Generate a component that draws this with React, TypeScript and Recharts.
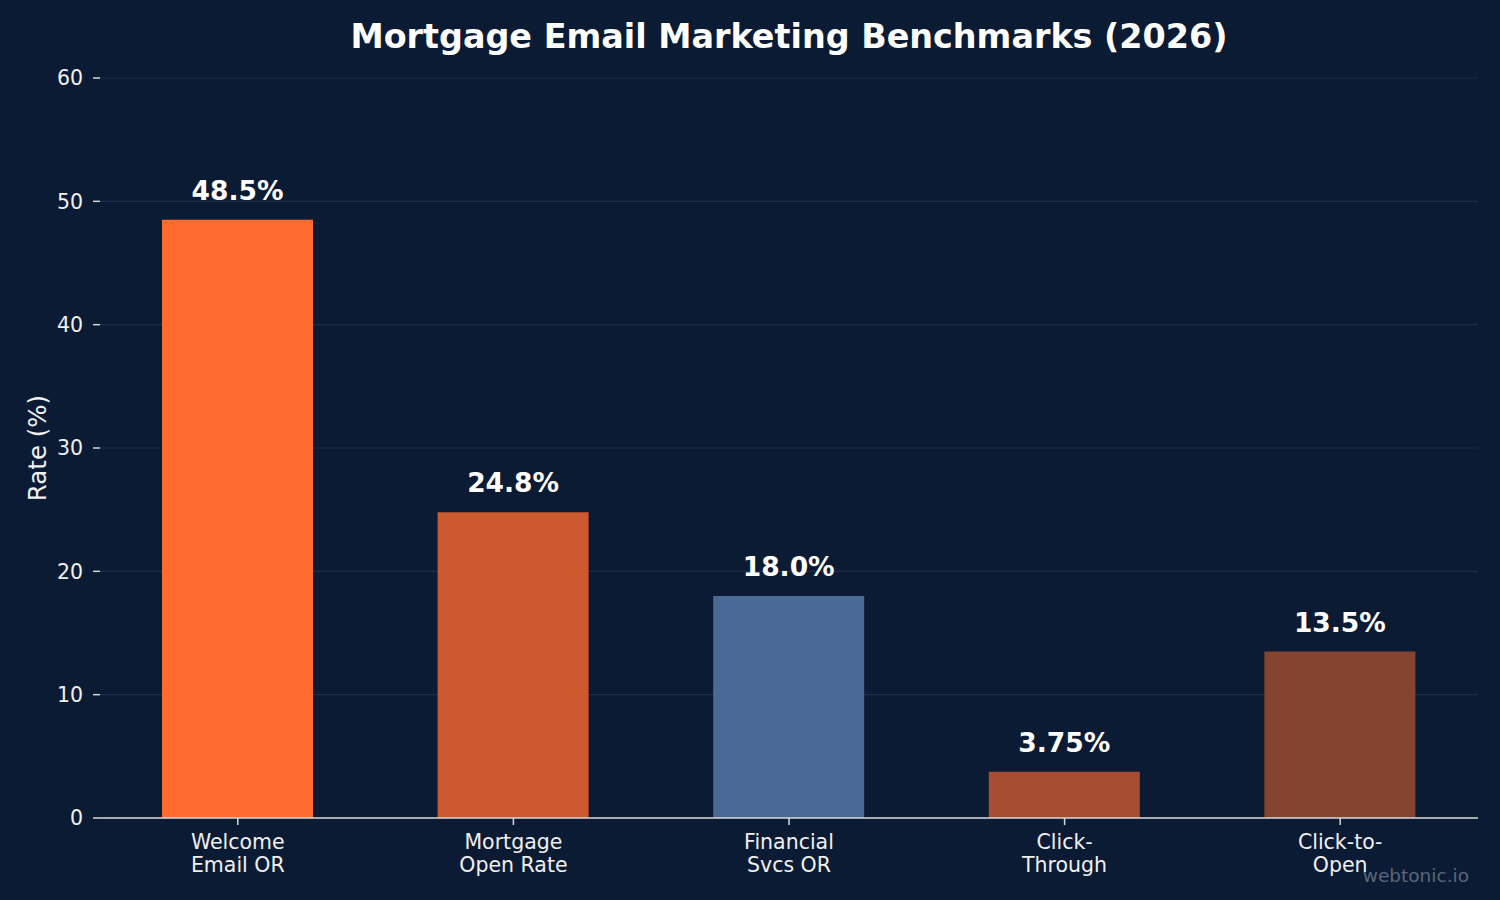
import React from "react";
import { BarChart, Bar, XAxis, YAxis, CartesianGrid, Cell, LabelList } from "recharts";

const categories = ["Welcome\nEmail OR", "Mortgage\nOpen Rate", "Financial\nSvcs OR", "Click-\nThrough", "Click-to-\nOpen"];
const values = [48.5, 24.8, 18.0, 3.75, 13.5];
const valueLabels = ["48.5%", "24.8%", "18.0%", "3.75%", "13.5%"];
const colors = ["#FF6B2C", "#CC5A2E", "#4A6A96", "#A84E30", "#844430"];
const yTicks = [0, 10, 20, 30, 40, 50, 60];

const data = categories.map((c, i) => ({ name: c, value: values[i], label: valueLabels[i] }));

const FONT = "'DejaVu Sans', sans-serif";
const BG = "#0C1B34";

const XTick = (props: any) => {
  const { x, y, payload } = props;
  const lines = String(payload.value).split("\n");
  return (
    <text x={x} y={y} textAnchor="middle" fill="#F0F0F0" fontSize={20.5} fontFamily={FONT}>
      {lines.map((l, i) => (
        <tspan key={i} x={x} dy={i === 0 ? 21.5 : 23}>
          {l}
        </tspan>
      ))}
    </text>
  );
};

const ValueLabel = (props: any) => {
  const { x, y, width, index } = props;
  return (
    <text
      x={x + width / 2}
      y={y - 20}
      textAnchor="middle"
      fill="#FFFFFF"
      fontSize={26.5}
      fontWeight="bold"
      fontFamily={FONT}
    >
      {valueLabels[index]}
    </text>
  );
};

const YLabel = (props: any) => {
  const { viewBox } = props;
  const cx = 37;
  const cy = viewBox.y + viewBox.height / 2;
  return (
    <text
      x={cx}
      y={cy}
      transform={`rotate(-90, ${cx}, ${cy})`}
      textAnchor="middle"
      dominantBaseline="central"
      fill="#F0F0F0"
      fontSize={24.5}
      fontFamily={FONT}
    >
      Rate (%)
    </text>
  );
};

export default function App() {
  return (
    <div
      style={{
        position: "absolute",
        left: 0,
        top: 0,
        width: 1500,
        height: 900,
        background: BG,
        fontFamily: FONT,
        overflow: "hidden",
      }}
    >
      <div
        style={{
          position: "absolute",
          left: 100,
          width: 1378,
          top: 15,
          textAlign: "center",
          color: "#FFFFFF",
          fontWeight: "bold",
          fontSize: 33.4,
          lineHeight: "44px",
        }}
      >
        Mortgage Email Marketing Benchmarks (2026)
      </div>
      <BarChart
        width={1500}
        height={900}
        data={data}
        margin={{ top: 78, right: 22, bottom: 22, left: 0 }}
        barSize={151}
      >
        <CartesianGrid vertical={false} stroke="#1F2D47" strokeWidth={1.2} />
        <XAxis
          dataKey="name"
          height={60}
          axisLine={{ stroke: "#D8D8D8", strokeWidth: 1.5 }}
          tickLine={{ stroke: "#D8D8D8", strokeWidth: 1.5 }}
          tickSize={7}
          tickMargin={2}
          tick={<XTick />}
          interval={0}
        />
        <YAxis
          width={100}
          domain={[0, 60]}
          ticks={yTicks}
          axisLine={false}
          tickLine={{ stroke: "#D8D8D8", strokeWidth: 1.5 }}
          tickSize={7}
          tickMargin={10}
          tick={{ fill: "#F0F0F0", fontSize: 20.5, fontFamily: FONT }}
          label={<YLabel />}
        />
        <Bar dataKey="value" isAnimationActive={false}>
          {data.map((d, i) => (
            <Cell key={i} fill={colors[i]} />
          ))}
          <LabelList dataKey="label" content={<ValueLabel />} />
        </Bar>
      </BarChart>
      <div
        style={{
          position: "absolute",
          right: 31,
          top: 864,
          color: "#5B6678",
          fontSize: 18.5,
          lineHeight: "24px",
        }}
      >
        webtonic.io
      </div>
    </div>
  );
}
